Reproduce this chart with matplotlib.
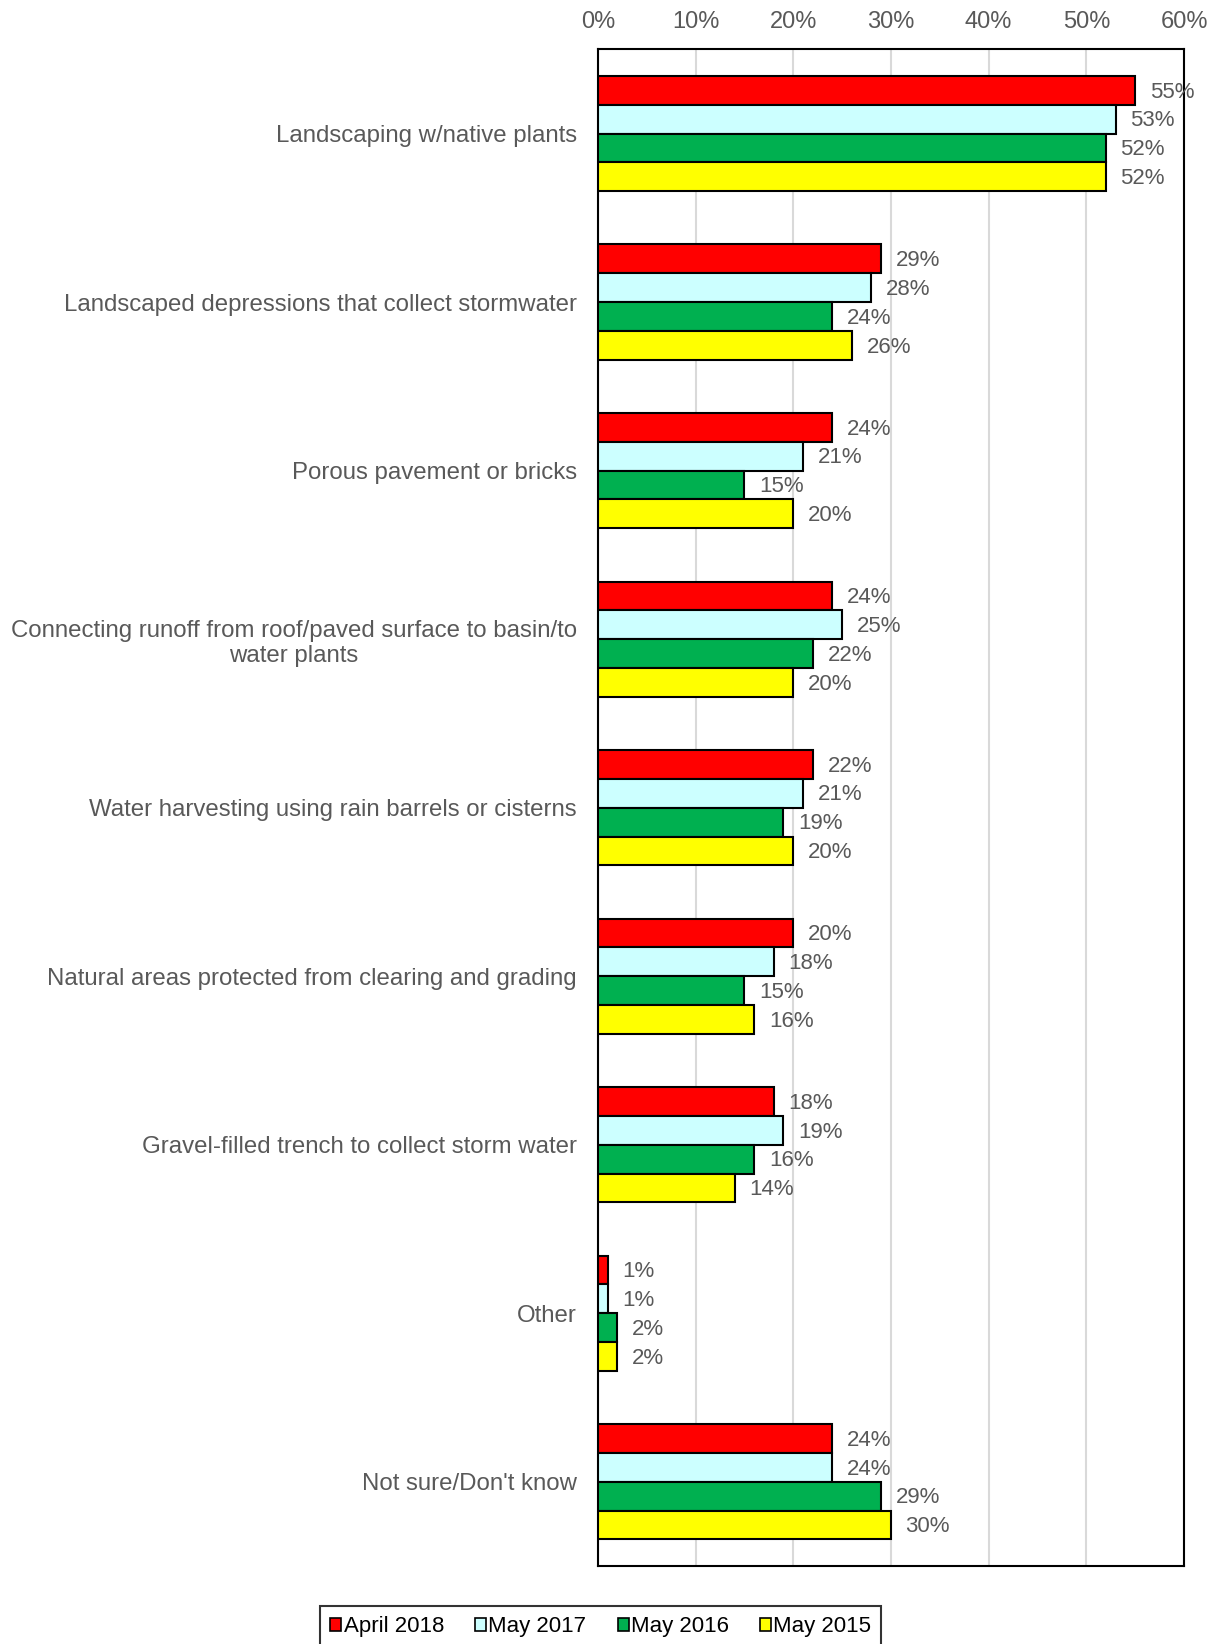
import numpy as np
import matplotlib.pyplot as plt
from matplotlib.patches import Patch

plt.rcParams['font.family'] = ['Liberation Sans', 'DejaVu Sans']

categories = [
    "Landscaping w/native plants",
    "Landscaped depressions that collect stormwater",
    "Porous pavement or bricks",
    "Connecting runoff from roof/paved surface to basin/to\nwater plants",
    "Water harvesting using rain barrels or cisterns",
    "Natural areas protected from clearing and grading",
    "Gravel-filled trench to collect storm water",
    "Other",
    "Not sure/Don't know",
]
series = ["April 2018", "May 2017", "May 2016", "May 2015"]
apr_2018 = [55, 29, 24, 24, 22, 20, 18, 1, 24]
may_2017 = [53, 28, 21, 25, 21, 18, 19, 1, 24]
may_2016 = [52, 24, 15, 22, 19, 15, 16, 2, 29]
may_2015 = [52, 26, 20, 20, 20, 16, 14, 2, 30]
colors = ["#FF0000", "#CCFFFF", "#00B050", "#FFFF00"]

values = [apr_2018, may_2017, may_2016, may_2015]
text_col = "#595959"

fig = plt.figure(figsize=(12.2, 16.44), dpi=100)
ax = fig.add_axes([0.490, 0.0474, 0.4805, 0.9226])

y = np.arange(len(categories))
h = 0.171
for i, (vals, c) in enumerate(zip(values, colors)):
    pos = y - 1.5 * h + i * h
    ax.barh(pos, vals, height=h, color=c, edgecolor="black", linewidth=1.5, zorder=3)
    for p, v in zip(pos, vals):
        ax.text(v + 1.5, p + 0.01, f"{v}%", va="center", ha="left",
                fontsize=16, color=text_col, zorder=4)

ax.set_xlim(0, 60)
ax.set_ylim(len(categories) - 0.5, -0.5)
ax.set_xticks(np.arange(0, 61, 10))
ax.set_xticklabels([f"{t}%" for t in range(0, 61, 10)])
ax.xaxis.tick_top()
ax.tick_params(axis="x", length=0, pad=12, labelsize=17, labelcolor=text_col)
ax.set_yticks(y)
ax.set_yticklabels(categories, multialignment="center")
ax.tick_params(axis="y", length=0, pad=15, labelsize=17.3, labelcolor=text_col)
ax.grid(axis="x", color="#D9D9D9", linewidth=1.5, zorder=0)
for s in ax.spines.values():
    s.set_color("black")
    s.set_linewidth(1.5)

# legend box sits on the bottom edge of the figure
handles = [Patch(facecolor=c, edgecolor="black", linewidth=1.2) for c in colors]
leg = fig.legend(handles, series, loc="lower center", bbox_to_anchor=(0.4925, -0.002),
                 ncol=4, fontsize=16, frameon=True, fancybox=False,
                 handlelength=0.5, handleheight=0.5, handletextpad=0.1,
                 columnspacing=1.4, borderpad=0.45, labelcolor="black",
                 borderaxespad=0)
leg.get_frame().set_edgecolor("black")
leg.get_frame().set_linewidth(1.5)

fig.savefig("out.png", dpi=100)
